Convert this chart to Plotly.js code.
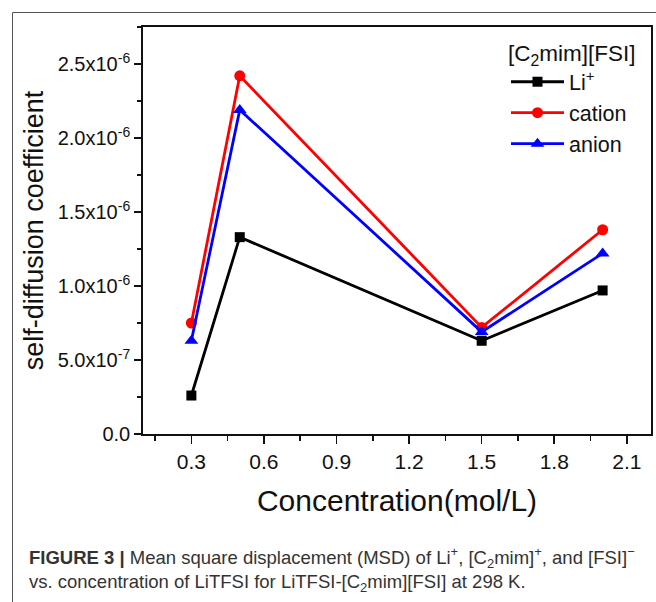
<!DOCTYPE html>
<html>
<head>
<meta charset="utf-8">
<script src="https://cdn.plot.ly/plotly-3.0.1.min.js"></script>
<style>
  html, body { margin: 0; padding: 0; background: #ffffff; }
  #chart { width: 656px; height: 602px; }
</style>
</head>
<body>
<div id="chart"></div>
<script>
// Data
const concentration = [0.3, 0.5, 1.5, 2.0];
const liValues      = [0.26e-6, 1.33e-6, 0.63e-6, 0.97e-6];
const cationValues  = [0.75e-6, 2.42e-6, 0.72e-6, 1.38e-6];
const anionValues   = [0.63e-6, 2.19e-6, 0.69e-6, 1.22e-6];

const seriesNames = ['Li<sup>+</sup>', 'cation', 'anion'];
const legendTitle = '[C<sub>2</sub>mim][FSI]';

const yTickVals = [0, 0.5e-6, 1.0e-6, 1.5e-6, 2.0e-6, 2.5e-6];
const yTickText = ['0.0', '5.0x10<sup>-7</sup>', '1.0x10<sup>-6</sup>', '1.5x10<sup>-6</sup>', '2.0x10<sup>-6</sup>', '2.5x10<sup>-6</sup>'];

const xTitle = 'Concentration(mol/L)';
const yTitle = 'self-diffusion coefficient';
const caption = '<b>FIGURE 3 |</b> Mean square displacement (MSD) of Li<sup>+</sup>, [C<sub>2</sub>mim]<sup>+</sup>, and [FSI]<sup>−</sup><br>vs. concentration of LiTFSI for LiTFSI-[C<sub>2</sub>mim][FSI] at 298 K.';

const FONT = 'Arial, "Liberation Sans", Helvetica, sans-serif';

const traces = [
  { x: concentration, y: liValues, name: seriesNames[0], type: 'scatter', mode: 'lines+markers',
    line: { color: '#000000', width: 2.8 }, marker: { symbol: 'square', size: 10, color: '#000000' } },
  { x: concentration, y: cationValues, name: seriesNames[1], type: 'scatter', mode: 'lines+markers',
    line: { color: '#ff0000', width: 2.8 }, marker: { symbol: 'circle', size: 11, color: '#ff0000' } },
  { x: concentration, y: anionValues, name: seriesNames[2], type: 'scatter', mode: 'lines+markers',
    line: { color: '#0000ff', width: 2.8 }, marker: { symbol: 'triangle-up', size: 12, color: '#0000ff' } }
];

const L = 143, R = 651, T = 27, B = 434;
const px2x = p => (p - L) / (R - L);
const py2y = p => (B - p) / (B - T);

const layout = {
  width: 656, height: 602,
  margin: { l: L, r: 656 - R, t: T, b: 602 - B },
  paper_bgcolor: '#ffffff', plot_bgcolor: '#ffffff',
  font: { family: FONT, color: '#111111', size: 20 },
  showlegend: true,
  xaxis: {
    range: [0.1, 2.2], tickmode: 'linear', tick0: 0, dtick: 0.3, tickformat: '.1f',
    showgrid: false, zeroline: false,
    showline: true, linecolor: '#111111', linewidth: 1.8, mirror: true,
    ticks: 'outside', ticklen: 8, tickwidth: 1.5, tickcolor: '#111111',
    minor: { tickmode: 'linear', tick0: 0, dtick: 0.15, ticks: 'outside', ticklen: 5, tickwidth: 1.5, tickcolor: '#111111', showgrid: false },
    tickfont: { size: 21, family: FONT, color: '#111111' },
    title: { text: xTitle, font: { size: 30, family: FONT, color: '#111111' }, standoff: 18 }
  },
  yaxis: {
    range: [0, 2.75e-6], tickmode: 'array', tickvals: yTickVals, ticktext: yTickText,
    showgrid: false, zeroline: false,
    showline: true, linecolor: '#111111', linewidth: 1.8, mirror: true,
    ticks: 'outside', ticklen: 7, tickwidth: 1.5, tickcolor: '#111111',
    minor: { tickmode: 'linear', tick0: 0, dtick: 0.25e-6, ticks: 'outside', ticklen: 4, tickwidth: 1.5, tickcolor: '#111111', showgrid: false },
    tickfont: { size: 20, family: FONT, color: '#111111' },
    title: { text: yTitle, font: { size: 27, family: FONT, color: '#111111' }, standoff: 6 }
  },
  legend: {
    x: px2x(506), y: py2y(32), xanchor: 'left', yanchor: 'top',
    bgcolor: 'rgba(0,0,0,0)', borderwidth: 0,
    itemwidth: 53, tracegroupgap: 0,
    font: { size: 21.5, family: FONT, color: '#111111' },
    title: { text: legendTitle, side: 'top', font: { size: 22.5, family: FONT, color: '#111111' } }
  },
  shapes: [
    { type: 'rect', xref: 'paper', yref: 'paper',
      x0: px2x(12.5), x1: px2x(720), y0: py2y(660), y1: py2y(12.5),
      line: { color: '#555555', width: 1 }, fillcolor: 'rgba(0,0,0,0)', layer: 'below' }
  ],
  annotations: [
    { xref: 'paper', yref: 'paper', x: px2x(27), y: py2y(569), xanchor: 'left', yanchor: 'middle',
      align: 'left', showarrow: false, text: caption,
      font: { size: 18.5, family: FONT, color: '#333333' } }
  ]
};

Plotly.newPlot('chart', traces, layout, { displayModeBar: false, staticPlot: true });
</script>
</body>
</html>
